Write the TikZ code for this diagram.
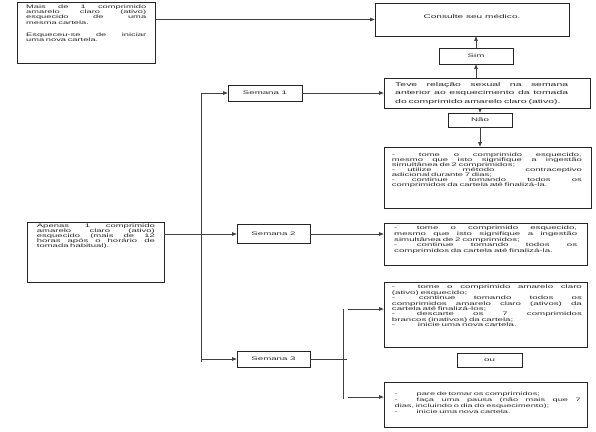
\documentclass[tikz,border=0pt]{standalone}
\usepackage{fontspec}
\setmainfont{Liberation Sans}
\newfontfamily\fX{Liberation Sans}[FakeStretch=1.9]
\usetikzlibrary{arrows.meta}
\newcommand\jline[2]{\makebox[#1][s]{\spaceskip=1pt plus 1fil\relax #2}}
\newcommand\dline[3]{\makebox[#1][l]{-}\makebox[\dimexpr#2-#1\relax][s]{\spaceskip=1pt plus 1fil\relax #3}}
\newcommand\dlinel[2]{\makebox[#1][l]{-}#2}
\newcommand\tf[2]{\fX\fontsize{#1}{#2}\selectfont\spaceskip=0.528\dimexpr#1pt\relax plus 0.2\dimexpr#1pt\relax\relax}
\setlength\lineskiplimit{-5pt}
\tikzset{
  box/.style={draw=black!85, line width=0.7pt, inner sep=0pt, text=black!85},
  conn/.style={draw=black!75, line width=0.6pt},
  arr/.style={conn, -{Triangle[length=4.5pt,width=3.5pt]}},
  big/.style={font=\tf{5.1}{6}},
  txt/.style={inner sep=0pt, anchor=north west, align=left, text=black!85},
}
\begin{document}
\begin{tikzpicture}[x=1pt,y=-1pt]
\fill[white] (0,0) rectangle (596,431);
\useasboundingbox (0,0) rectangle (596,431);
% ---- boxes ----
\node[box, minimum width=138pt, minimum height=61pt] (A) at (86,32.5) {};
\node[txt, text width=120pt, font=\tf{4.9}{5.3}] (At) at (26,4.6)
 {\jline{120pt}{Mais de 1 comprimido}\\
  \jline{120pt}{amarelo claro (ativo)}\\
  \jline{120pt}{esquecido de uma}\\
  mesma cartela.\\[7pt]
  \jline{120pt}{Esqueceu-se de iniciar}\\
  uma nova cartela.};

\node[box, minimum width=194pt, minimum height=33pt] (B) at (472,19.5) {};
\node[inner sep=0pt, text=black!85, font=\tf{5.3}{6}] (Bt) at (472,16.5) {Consulte seu médico.};

\node[box, big, minimum width=74pt, minimum height=16pt] (Sim) at (476,56) {Sim};

\node[box, minimum width=206pt, minimum height=30pt] (Q) at (487,93) {};
\node[txt, text width=173pt, font=\tf{5.5}{8.3}] (Qt) at (395,82.4)
 {\jline{173pt}{Teve relação sexual na semana}\\
  \jline{173pt}{anterior ao esquecimento da tomada}\\
  do comprimido amarelo claro (ativo).};

\node[box, big, minimum width=64pt, minimum height=14pt] (Nao) at (480,120) {Não};

\node[box, minimum width=207pt, minimum height=61pt] (C) at (487.5,177.5) {};
\node[txt, text width=190pt, font=\tf{5}{5}] (Ct) at (391.7,152.6)
 {\dline{27pt}{190pt}{tome o comprimido esquecido,}\\
  \jline{190pt}{mesmo que isto signifique a ingestão}\\
  simultânea de 2 comprimidos;\\
  \dline{15.5pt}{190pt}{utilize método contraceptivo}\\
  adicional durante 7 dias;\\
  \dline{20pt}{190pt}{continue tomando todos os}\\
  comprimidos da cartela até finalizá-la.};

\node[box, minimum width=137pt, minimum height=60pt] (D) at (95.5,252) {};
\node[txt, text width=118pt, font=\tf{5}{5}] (Dt) at (36.7,223.6)
 {\jline{118pt}{Apenas 1 comprimido}\\
  \jline{118pt}{amarelo claro (ativo)}\\
  \jline{118pt}{esquecido (mais de 12}\\
  \jline{118pt}{horas após o horário de}\\
  tomada habitual).};

\node[box, big, minimum width=74pt, minimum height=16pt] (S1) at (265,93) {Semana 1};
\node[box, big, minimum width=73pt, minimum height=19pt] (S2) at (273.5,234) {Semana 2};
\node[box, big, minimum width=73pt, minimum height=16pt] (S3) at (273.5,359) {Semana 3};

\node[box, minimum width=203pt, minimum height=42pt] (E) at (485.5,244) {};
\node[txt, text width=183pt, font=\tf{5.1}{5.6}] (Et) at (394,226)
 {\dline{22.7pt}{183pt}{tome o comprimido esquecido,}\\
  \jline{183pt}{mesmo que isto signifique a ingestão}\\
  simultânea de 2 comprimidos;\\
  \dline{22.7pt}{183pt}{continue tomando todos os}\\
  comprimidos da cartela até finalizá-la.};

\node[box, minimum width=203pt, minimum height=65pt] (F) at (485.5,314.5) {};
\node[txt, text width=190pt, font=\tf{5.1}{5.4}] (Ft) at (391.7,285)
 {\dline{26pt}{190pt}{tome o comprimido amarelo claro}\\
  (ativo) esquecido;\\
  \dline{27pt}{190pt}{continue tomando todos os}\\
  \jline{190pt}{comprimidos amarelo claro (ativos) da}\\
  cartela até finalizá-los;\\
  \dline{25pt}{190pt}{descarte os 7 comprimidos}\\
  brancos (inativos) da cartela;\\
  \dlinel{26pt}{inicie uma nova cartela.}};

\node[box, big, minimum width=65pt, minimum height=14pt] (ou) at (489.5,360) {ou};

\node[box, minimum width=203pt, minimum height=45pt] (G) at (485.5,404.5) {};
\node[txt, text width=186pt, font=\tf{4.85}{5.9}] (Gt) at (394.5,391.6)
 {\dlinel{22pt}{pare de tomar os comprimidos;}\\
  \dline{22pt}{186pt}{faça uma pausa (não mais que 7}\\
  dias, incluindo o dia do esquecimento);\\
  \dlinel{22pt}{inicie uma nova cartela.}};

% ---- connectors ----
\draw[arr] (A.east |- B.west) -- (B.west);
\draw[arr] (Sim.north) -- (Sim.north |- B.south);
\draw[arr] (Sim.south |- Q.north) -- (Sim.south);
\draw[arr] (Nao.north |- Q.south) -- (Nao.north);
\draw[arr] (Nao.south) -- (Nao.south |- C.north);

\coordinate (tT) at (201,93);
\coordinate (tB) at (201,362);
\draw[conn] (tT) -- (tB);
\draw[arr] (tT) -- (S1.west);
\draw[arr] (tT |- S3.west) -- (S3.west);
\draw[arr] (D.east |- S2.west) -- (S2.west);
\draw[arr] (S1.east) -- (S1.east -| Q.west);
\draw[arr] (S2.east) -- (S2.east -| E.west);

\coordinate (s3e) at (347,359);
\coordinate (vT) at (343,308.5);
\coordinate (vB) at (343,399);
\coordinate (hF) at (348,309);
\coordinate (hG) at (348,397);
\draw[conn] (S3.east) -- (s3e);
\draw[conn] (vT) -- (vB);
\draw[arr] (hF) -- (hF -| F.west);
\draw[arr] (hG) -- (hG -| G.west);
\end{tikzpicture}
\end{document}
